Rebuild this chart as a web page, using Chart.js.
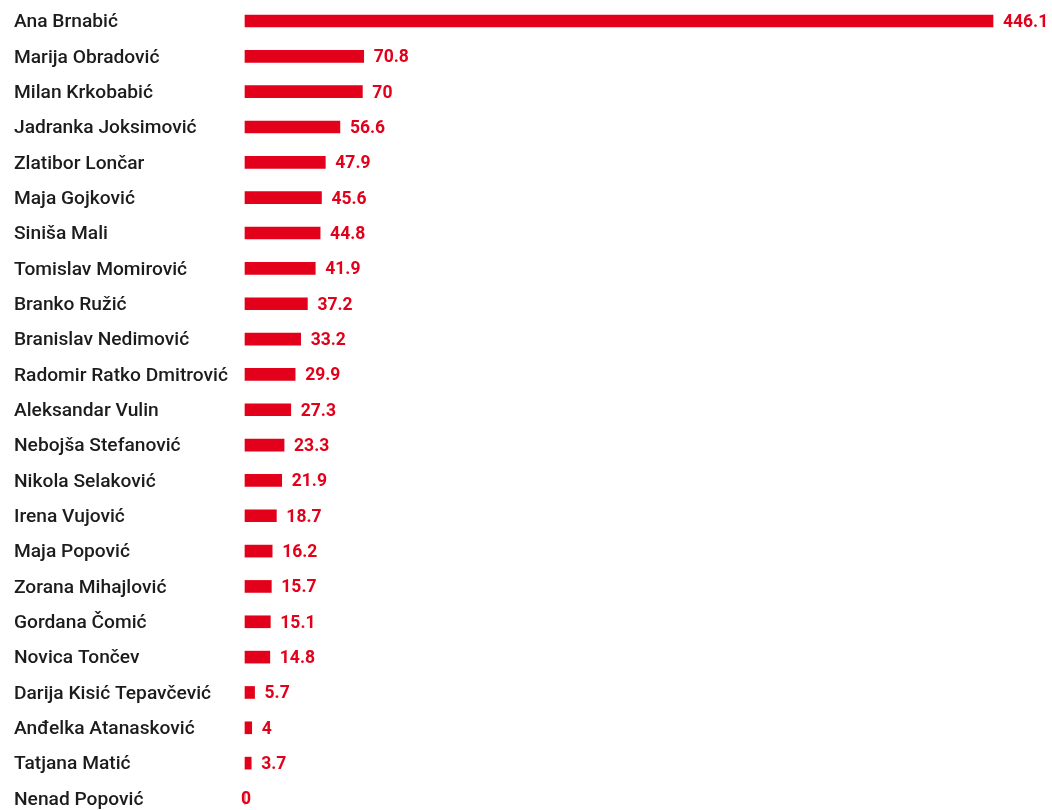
<!DOCTYPE html>
<html>
<head>
<meta charset="utf-8">
<script src="https://cdn.jsdelivr.net/npm/chart.js@4"></script>
<style>
  html, body { margin: 0; padding: 0; background: #fff; }
  #wrap { width: 1052px; height: 810px; position: relative; }
</style>
</head>
<body>
<div id="wrap"><canvas id="c" width="1052" height="810"></canvas></div>
<script>
const categories = [
  "Ana Brnabić", "Marija Obradović", "Milan Krkobabić", "Jadranka Joksimović",
  "Zlatibor Lončar", "Maja Gojković", "Siniša Mali", "Tomislav Momirović",
  "Branko Ružić", "Branislav Nedimović", "Radomir Ratko Dmitrović", "Aleksandar Vulin",
  "Nebojša Stefanović", "Nikola Selaković", "Irena Vujović", "Maja Popović",
  "Zorana Mihajlović", "Gordana Čomić", "Novica Tončev", "Darija Kisić Tepavčević",
  "Anđelka Atanasković", "Tatjana Matić", "Nenad Popović"
];
const values = [
  446.1, 70.8, 70, 56.6, 47.9, 45.6, 44.8, 41.9, 37.2, 33.2, 29.9, 27.3,
  23.3, 21.9, 18.7, 16.2, 15.7, 15.1, 14.8, 5.7, 4, 3.7, 0
];
const valueLabels = values.map(v => String(v));

const RED = '#e2001a';

const valueLabelPlugin = {
  id: 'valueLabels',
  afterDatasetsDraw(chart) {
    const ctx = chart.ctx;
    const meta = chart.getDatasetMeta(0);
    ctx.save();
    ctx.font = 'bold 17.5px Roboto';
    ctx.fillStyle = RED;
    ctx.textBaseline = 'middle';
    ctx.textAlign = 'left';
    meta.data.forEach((bar, i) => {
      const v = values[i];
      const x = v === 0 ? bar.x - 4 : bar.x + 10;
      ctx.fillText(valueLabels[i], x, bar.y + 1.5);
    });
    ctx.restore();
  }
};

new Chart(document.getElementById('c'), {
  type: 'bar',
  data: {
    labels: categories,
    datasets: [{
      data: values,
      backgroundColor: RED,
      borderWidth: 0,
      barThickness: 12,
      clip: false
    }]
  },
  options: {
    indexAxis: 'y',
    responsive: false,
    animation: false,
    layout: { padding: { left: 14, right: 59, top: 21, bottom: 8 } },
    plugins: { legend: { display: false }, tooltip: { enabled: false } },
    scales: {
      x: {
        min: 0, max: 446.1,
        display: false,
        grid: { display: false }
      },
      y: {
        offset: false,
        grid: { display: false, drawTicks: false },
        border: { display: false },
        ticks: {
          crossAlign: 'far',
          padding: 0,
          labelOffset: 1.5,
          color: '#1c1c1c',
          font: { family: 'Roboto', size: 19.2, weight: '500' }
        },
        afterFit(scale) { scale.width = 231; }
      }
    }
  },
  plugins: [valueLabelPlugin]
});
</script>
</body>
</html>
